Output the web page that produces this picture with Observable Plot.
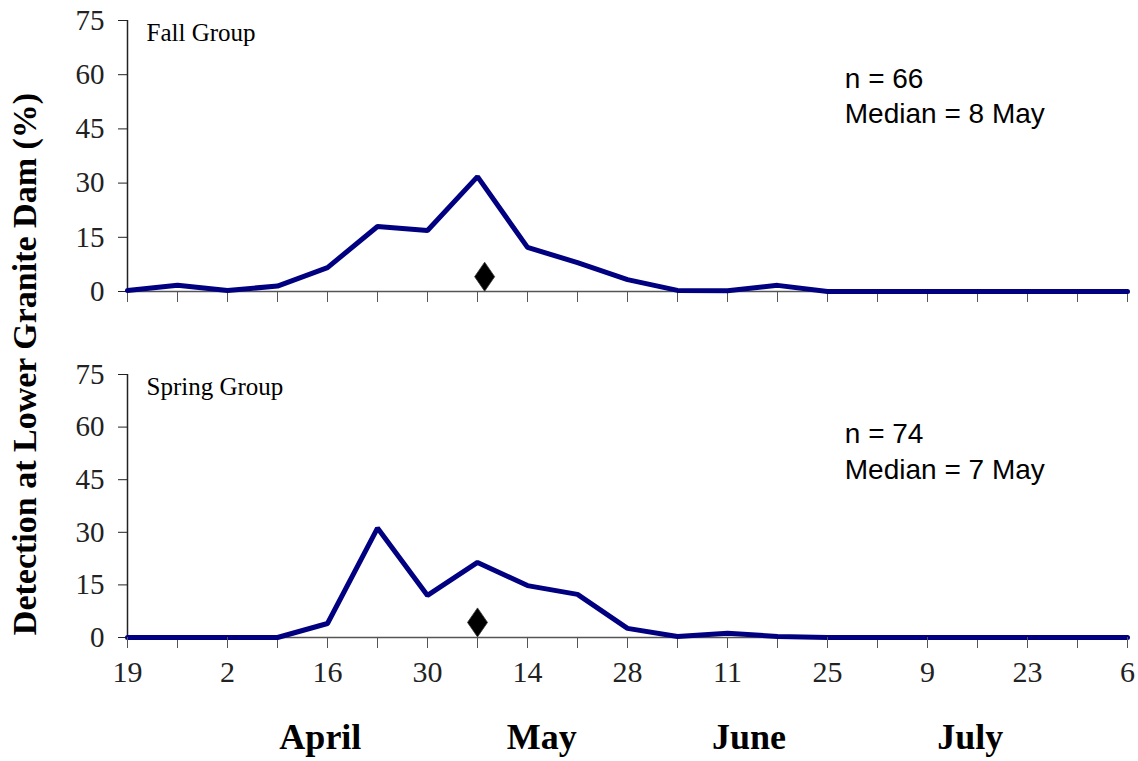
<!DOCTYPE html>
<html>
<head>
<meta charset="utf-8">
<script src="https://cdn.jsdelivr.net/npm/d3@7"></script>
<script src="https://cdn.jsdelivr.net/npm/@observablehq/plot@0.6"></script>
<style>
  html, body { margin: 0; padding: 0; background: #fff; }
  #wrap { position: relative; width: 1138px; height: 761px; background: #fff; overflow: hidden; }
  #top, #bottom { position: absolute; left: 0; }
  #top { top: 0; }
  #bottom { top: 330px; }
  #ylabel {
    position: absolute; left: -325px; top: 344px; width: 700px; height: 40px; line-height: 40px;
    text-align: center; transform: rotate(-90deg); transform-origin: 50% 50%;
    font-family: "Liberation Serif", "Times New Roman", serif; font-weight: bold; font-size: 34px; color: #000;
    white-space: nowrap;
  }
</style>
</head>
<body>
<div id="wrap">
  <div id="top"></div>
  <div id="bottom"></div>
  <div id="ylabel">Detection at Lower Granite Dam (%)</div>
</div>
<script>
// ---- data ----
const weeks = ["2001-03-19","2001-03-26","2001-04-02","2001-04-09","2001-04-16","2001-04-23","2001-04-30",
  "2001-05-07","2001-05-14","2001-05-21","2001-05-28","2001-06-04","2001-06-11","2001-06-18","2001-06-25",
  "2001-07-02","2001-07-09","2001-07-16","2001-07-23","2001-07-30","2001-08-06"];
const fallPct   = [0.3, 1.7, 0.3, 1.5, 6.6, 18.0, 16.9, 31.8, 12.2, 8.0, 3.3, 0.3, 0.2, 1.7, 0, 0, 0, 0, 0, 0, 0];
const springPct = [0, 0, 0, 0, 4.0, 31.2, 12.0, 21.4, 14.8, 12.3, 2.6, 0.3, 1.2, 0.3, 0, 0, 0, 0, 0, 0, 0];
const labelledTicks = ["2001-03-19","2001-04-02","2001-04-16","2001-04-30","2001-05-14","2001-05-28",
  "2001-06-11","2001-06-25","2001-07-09","2001-07-23","2001-08-06"];
const xTickLabels = ["19","2","16","30","14","28","11","25","9","23","6"];
const yTicks = [0, 15, 30, 45, 60, 75];
const months = ["April", "May", "June", "July"];
const monthCenters = ["2001-04-15", "2001-05-16", "2001-06-14", "2001-07-15"];
const groups = ["Fall Group", "Spring Group"];
const nValues = [66, 74];
const medianLabels = ["8 May", "7 May"];
const medianDates = ["2001-05-08", "2001-05-07"];
const medianMarkerY = [4.1, 4.3];
const annotationDate = "2001-06-27";
const annotationY = [46.5, 45.3];

// ---- helpers ----
const D = s => new Date(s + "T00:00:00Z");
const weekDates = weeks.map(D);
const xDomain = [weekDates[0], weekDates[weekDates.length - 1]];
const labelMap = new Map(labelledTicks.map((s, i) => [D(s).getTime(), xTickLabels[i]]));
const serif = "'Liberation Serif', 'Times New Roman', serif";
const sans = "'Liberation Sans', Arial, sans-serif";

const diamond = {
  draw(context, size) {
    const r = Math.sqrt(size / Math.PI);
    const w = r * 0.69;
    context.moveTo(0, -r);
    context.lineTo(w, 0);
    context.lineTo(0, r);
    context.lineTo(-w, 0);
    context.closePath();
  }
};

function panel(i, opts) {
  const values = i === 0 ? fallPct : springPct;
  const series = weekDates.map((d, k) => ({date: d, pct: values[k]}));
  const marks = [
    Plot.ruleY([0], {stroke: "#555", strokeWidth: 1.5}),
    Plot.ruleX([xDomain[0]], {stroke: "#222", strokeWidth: 1.5}),
    Plot.axisY({ticks: yTicks, tickSize: 9, tickPadding: 14, fontSize: 29, fontFamily: serif,
      stroke: "#222", fill: "#222", label: null}),
    Plot.axisX({ticks: weekDates, tickSize: 11, tickFormat: () => "", stroke: "#555", label: null}),
    Plot.line(series, {x: "date", y: "pct", stroke: "#000080", strokeWidth: 5, strokeLinejoin: "miter"}),
    Plot.dot([medianDates[i]], {x: d => D(d), y: () => medianMarkerY[i], symbol: diamond, r: 14.5,
      fill: "#000", stroke: "#333", strokeWidth: 0.8}),
    Plot.text([groups[i]], {frameAnchor: "top-left", text: d => d, dx: 19, dy: 20, lineAnchor: "bottom",
      textAnchor: "start", fontSize: 25, fontFamily: serif, fill: "#000"}),
    Plot.text([`n = ${nValues[i]}\nMedian = ${medianLabels[i]}`], {x: () => D(annotationDate), y: () => annotationY[i],
      text: d => d, dx: 3, textAnchor: "start", lineAnchor: "bottom", lineHeight: 1.27, fontSize: 28,
      fontFamily: sans, fill: "#000"})
  ];
  if (opts.labels) {
    marks.push(Plot.axisX({ticks: labelledTicks.map(D), tickSize: 11, tickPadding: 12,
      tickFormat: d => labelMap.get(d.getTime()), fontSize: 30, fontFamily: serif,
      stroke: "#555", fill: "#222", label: null}));
    marks.push(Plot.text(months, {x: (d, k) => D(monthCenters[k]), frameAnchor: "bottom", dy: 111,
      lineAnchor: "bottom", text: d => d, fontSize: 36, fontWeight: "bold", fontFamily: serif, fill: "#000"}));
  }
  return Plot.plot({
    width: 1138, height: opts.height,
    marginTop: opts.marginTop, marginBottom: opts.marginBottom, marginLeft: 127, marginRight: 11,
    style: {background: "transparent", overflow: "visible", fontFamily: serif},
    x: {type: "utc", domain: xDomain},
    y: {domain: [0, 75]},
    marks
  });
}

document.getElementById("top").append(panel(0, {height: 330, marginTop: 20, marginBottom: 39}));
document.getElementById("bottom").append(panel(1, {height: 431, marginTop: 44, marginBottom: 124, labels: true}));
</script>
</body>
</html>
